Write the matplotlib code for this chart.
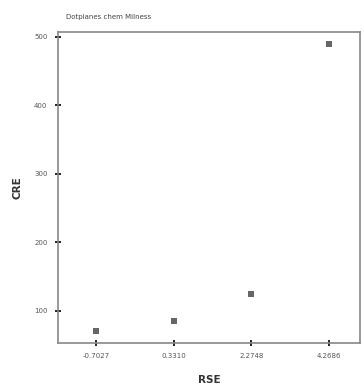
import matplotlib
matplotlib.use("Agg")
import matplotlib.pyplot as plt

categories = ["-0.7027", "0.3310", "2.2748", "4.2686"]
cre_values = [71, 85, 125, 490]
y_ticks = [100, 200, 300, 400, 500]
title = "Dotplanes chem Milness"

fig = plt.figure(figsize=(3.64, 3.87), dpi=100)
ax = fig.add_axes([0.159, 0.114, 0.83, 0.803])

xpos = list(range(len(categories)))
ax.scatter(xpos, cre_values, s=18, marker="s", color="#666666", edgecolors="none", zorder=3)

ax.set_xlim(-0.49, 3.40)
ax.set_ylim(53, 507)
ax.set_xticks(xpos)
ax.set_xticklabels(categories)
ax.set_yticks(y_ticks)
ax.set_yticklabels([str(v) for v in y_ticks])
ax.tick_params(axis="both", direction="inout", length=5, width=1.4, color="#222222",
               labelsize=5, labelcolor="#555555", pad=5)
for s in ax.spines.values():
    s.set_color("#888888")
    s.set_linewidth(1.2)

ax.set_xlabel("RSE", fontsize=7.5, fontweight="bold", color="#333333", labelpad=11)
ax.set_ylabel("CRE", fontsize=7.5, fontweight="bold", color="#333333", labelpad=8)
fig.text(0.18, 0.955, title, fontsize=5, color="#444444", ha="left", va="center")

fig.savefig("out.png", dpi=100, facecolor="white")
